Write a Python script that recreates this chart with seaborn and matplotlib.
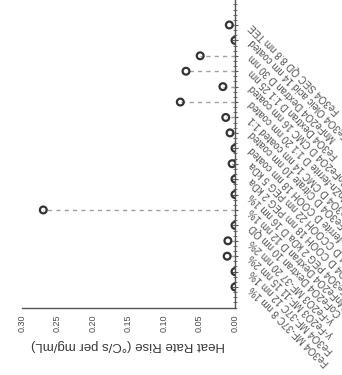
import matplotlib
matplotlib.use("Agg")
import matplotlib.pyplot as plt
import seaborn as sns
import pandas as pd
from matplotlib.ticker import MultipleLocator, FormatStrFormatter

# Samples (first entry sits next to the value axis) and their measured heating rate rise
samples = [
    "Fe3O4 MF-37C 8 nm 1%",
    "Fe3O4 MF-37C 12 nm 1%",
    "γ-Fe2O3 MF-11 15 nm 2%",
    "γ-Fe2O3 MF-37 20 nm 2%",
    "CoFe2O4 Dextran 10 nm QD",
    "MnFe2O4 Dextran D 12 nm 1%",
    "Fe3O4 PEG 2 kDa D 16 nm 1%",
    "Fe3O4 D COOH 18 nm PEG 2 kDa",
    "Fe3O4 D CCOOH 22 nm PEG 5 kDa",
    "Zn-ferrite D COOH 18 nm coated",
    "Fe3O4 D Citrate 10 nm coated",
    "Fe3O4 D CMC 14 nm coated 1:1",
    "MnZn-ferrite D 1:1 20 nm coated",
    "CoFe2O4 D CMC 16 nm coated",
    "Fe3O4 Dextran D 1:1 25 nm",
    "MnFe2O4 Dextran D 30 nm",
    "Fe3O4 Oleic acid 14 nm coated",
    "Fe3O4 SEC QD 8.8 nm TEE",
]
heat_rate_rise = [
    0.000, 0.000, 0.011, 0.010, 0.000, 0.270, 0.000, 0.000, 0.004,
    0.000, 0.007, 0.013, 0.077, 0.017, 0.069, 0.049, 0.000, 0.008,
]
value_ticks = [0.00, 0.05, 0.10, 0.15, 0.20, 0.25, 0.30]
value_label = "Heat Rate Rise (°C/s per mg/mL)"

sns.set_theme(style="white")
plt.rcParams["font.family"] = ["Liberation Sans", "DejaVu Sans"]

fig = plt.figure(figsize=(3.42, 3.75), dpi=100)
ax = fig.add_axes([0.0643, 0.1787, 0.6228, 0.8213])

df = pd.DataFrame({"sample": samples, "rise": heat_rate_rise})

sns.scatterplot(data=df, x="rise", y="sample", ax=ax, marker="o", s=24,
                color="#333333", linewidth=1.6, zorder=3, clip_on=True)
pts = ax.collections[-1]
pts.set_facecolor("none")
pts.set_edgecolor("#333333")

ax.hlines(df["sample"], 0, df["rise"], colors="#a0a0a0",
          linestyles=(0, (3, 3)), linewidth=1.0, zorder=2)

ax.set_xlim(value_ticks[-1], value_ticks[0])
ax.set_ylim(-1.36, len(samples) - 1 + 1.62)

# value axis
ax.set_xticks(value_ticks)
ax.xaxis.set_minor_locator(MultipleLocator(0.025))
ax.xaxis.set_major_formatter(FormatStrFormatter("%.2f"))
ax.tick_params(axis="x", which="major", direction="inout", length=5, width=0.8,
               color="#555555", labelsize=6.5, labelcolor="#4a4a4a",
               labelrotation=90, pad=2)
ax.tick_params(axis="x", which="minor", direction="inout", length=3, width=0.6,
               color="#555555")
ax.set_xlabel(value_label, rotation=180, fontsize=9.5, color="#3a3a3a", labelpad=5)

# sample axis
ax.yaxis.tick_right()
ax.set_yticks(range(len(samples)))
ax.set_yticklabels(samples)
ax.yaxis.set_minor_locator(MultipleLocator(1 / 3))
ax.tick_params(axis="y", which="major", direction="inout", length=5, width=0.8,
               color="#555555", labelsize=7, labelcolor="#505050", pad=9)
ax.tick_params(axis="y", which="minor", right=True, direction="inout", length=3,
               width=0.6, color="#555555")
for lab in ax.get_yticklabels():
    lab.set_rotation(135)
    lab.set_rotation_mode("anchor")
    lab.set_ha("right")
    lab.set_va("center")
ax.set_ylabel("")

for side in ("top", "left"):
    ax.spines[side].set_visible(False)
for side in ("bottom", "right"):
    ax.spines[side].set_color("#555555")
    ax.spines[side].set_linewidth(1.0)

fig.savefig("out.png", dpi=100)
